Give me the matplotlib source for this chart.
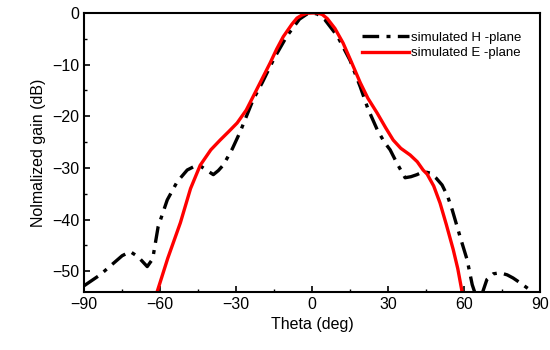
import matplotlib
matplotlib.use("Agg")
import matplotlib.pyplot as plt
from matplotlib.ticker import MultipleLocator

plt.rcParams['font.family'] = ['Liberation Sans', 'DejaVu Sans']

# simulated H-plane (black dash-dot)
theta_h = [-90, -87, -83.7, -79, -75, -71.8, -68.7, -65.1, -63.5, -62.8, -60.8, -57.2,
           -53.3, -49.3, -46.5, -44.2, -41.5, -39, -37, -35, -31.5, -28.4, -23.3, -19.7,
           -15, -10, -5, -2, 0, 2, 5, 10, 15, 19, 22, 25.7, 28.5, 30.8, 33.6, 36.7, 39, 41.4,
           44, 46.6, 49, 51.3, 53.5, 55.3, 58.4, 61.2, 63.2, 65.5, 67, 69, 71.5, 74.2,
           77, 79.3, 82, 84.8, 87]
gain_h = [-52.8, -51.8, -50.7, -48.7, -47, -46.2, -47.2, -49.1, -48, -47.2, -41.4, -36.2,
          -32.7, -30.4, -29.7, -29.6, -30.5, -31.3, -30.5, -29.4, -26.3, -23, -16.8, -13.5,
          -8.8, -4.5, -1.2, -0.2, 0, -0.2, -1.3, -4.5, -9.2, -14.3, -18.5, -22.6, -25, -26.5, -29.2,
          -31.9, -31.7, -31.3, -30.7, -31, -32, -33.3, -35.5, -38.1, -43.3, -47.8, -52.6,
          -56, -54.5, -51.6, -50.5, -50.3, -50.7, -51.3, -52.2, -53.2, -54]

# simulated E-plane (red solid)
theta_e = [-61.2, -57, -52, -48, -44.2, -40, -36.3, -33, -29.6, -26, -23.3, -20, -16.6,
           -14, -11.4, -8, -6, -4, -2, 0, 2, 4, 6, 9, 12.2, 15.5, 19, 22, 25.7, 29, 32, 35,
           38.7, 41.5, 43.8, 45.4, 48, 50.5, 53, 55.7, 57.5, 59.2]
gain_e = [-54, -47.5, -40.6, -34, -29.5, -26.5, -24.6, -23, -21.3, -18.8, -16.2, -13,
          -9.7, -7, -4.6, -2.2, -1, -0.4, -0.05, 0, 0, -0.3, -1.1, -3, -5.8, -9.5, -13.5, -16.5,
          -19.4, -22.2, -24.6, -26.2, -27.5, -28.8, -30.4, -31.2, -33.5, -36.8, -41,
          -45.8, -49.5, -54]

fig = plt.figure(figsize=(5.5, 3.5), dpi=100)
ax = fig.add_axes([0.153, 0.166, 0.829, 0.797])

ax.plot(theta_h, gain_h, color='black', lw=2.4, dashes=(5, 2.2, 1.2, 2.2),
        label='simulated H -plane')
ax.plot(theta_e, gain_e, color='red', lw=2.4, label='simulated E -plane')

ax.set_xlim(-90, 90)
ax.set_ylim(-54, 0)
ax.xaxis.set_major_locator(MultipleLocator(30))
ax.xaxis.set_minor_locator(MultipleLocator(15))
ax.yaxis.set_major_locator(MultipleLocator(10))
ax.yaxis.set_minor_locator(MultipleLocator(5))
ax.tick_params(which='both', direction='in', labelsize=11.5)
ax.tick_params(which='major', length=4, width=1.2)
ax.tick_params(which='minor', length=2.5, width=1)
for s in ax.spines.values():
    s.set_linewidth(1.5)

ax.set_xlabel('Theta (deg)', fontsize=11.5)
ax.set_ylabel('Nolmalized gain (dB)', fontsize=11.5)

ax.legend(loc='upper right', frameon=False, fontsize=9.5, handlelength=3.5,
          handletextpad=0.2, labelspacing=0.25, borderaxespad=1.0)

fig.savefig('out.png', dpi=100)
